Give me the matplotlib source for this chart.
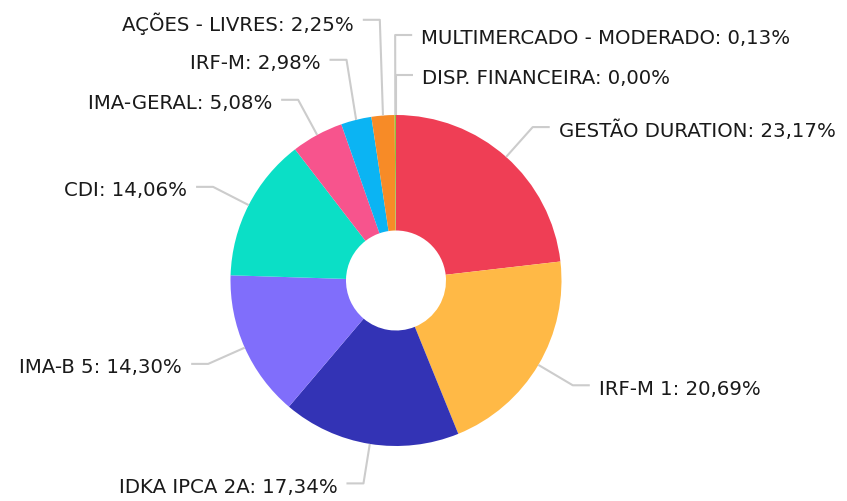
import numpy as np
import matplotlib
matplotlib.use("Agg")
import matplotlib.pyplot as plt

# ================= DATA =================
labels = ["GESTÃO DURATION", "IRF-M 1", "IDKA IPCA 2A", "IMA-B 5", "CDI",
          "IMA-GERAL", "IRF-M", "AÇÕES - LIVRES", "MULTIMERCADO - MODERADO",
          "DISP. FINANCEIRA"]
values = [23.17, 20.69, 17.34, 14.30, 14.06, 5.08, 2.98, 2.25, 0.13, 0.00]
colors = ["#EF3E55", "#FFB946", "#3333B5", "#806EFB", "#0BDFC6",
          "#F7548D", "#0BB4F3", "#F78B27", "#8CC63F", "#999999"]

# ================= LAYOUT (pixels) =================
W, H = 847, 502
CX, CY = 396, 502 - 281.5
R, R_IN = 165.5, 50
LINE_OUT = 40      # elbow distance beyond the rim
HSEG = 17          # horizontal part of the leader
GAP = 40           # min vertical gap between labels on one side
LINE_C = "#CCCCCC"

fig = plt.figure(figsize=(W / 100, H / 100), dpi=100)
ax = fig.add_axes([0, 0, 1, 1])

ax.pie(values, colors=colors, startangle=90, counterclock=False,
       center=(CX, CY), radius=R,
       wedgeprops=dict(width=R - R_IN, linewidth=0))
ax.set_xlim(0, W)
ax.set_ylim(0, H)
ax.set_aspect("equal")
ax.axis("off")

# mid angles of each slice (degrees, clockwise from top)
total = sum(values)
cum = np.cumsum([0] + values[:-1])
mids = [90 - (c + v / 2) / total * 360 for c, v in zip(cum, values)]

pts = []
for i, a in enumerate(mids):
    t = np.radians(a)
    ex, ey = CX + R * np.cos(t), CY + R * np.sin(t)
    nx, ny = CX + (R + LINE_OUT) * np.cos(t), CY + (R + LINE_OUT) * np.sin(t)
    side = 1 if np.cos(t) > -0.01 else -1
    pts.append(dict(i=i, ex=ex, ey=ey, nx=nx, ny=ny, side=side))

# push labels apart (upwards) on each side
for side in (1, -1):
    grp = [p for p in pts if p["side"] == side]
    grp.sort(key=lambda p: (round(p["ny"]), -p["i"]))  # bottom first
    for k in range(1, len(grp)):
        if grp[k]["ny"] < grp[k - 1]["ny"] + GAP:
            grp[k]["ny"] = grp[k - 1]["ny"] + GAP

for p in pts:
    s = p["side"]
    hx = p["nx"] + s * HSEG
    ax.plot([p["ex"], p["nx"], hx], [p["ey"], p["ny"], p["ny"]],
            color=LINE_C, lw=1.5, solid_capstyle="butt")
    txt = f"{labels[p['i']]}: {values[p['i']]:.2f}%".replace(".", ",")
    txt = txt.replace("DISP, ", "DISP. ")
    ax.text(hx + s * 9, p["ny"] - 3, txt, ha="left" if s > 0 else "right",
            va="center", fontsize=14.2, color="#1a1a1a",
            family=["DejaVu Sans"])

fig.savefig("out.png", dpi=100, facecolor="white")
